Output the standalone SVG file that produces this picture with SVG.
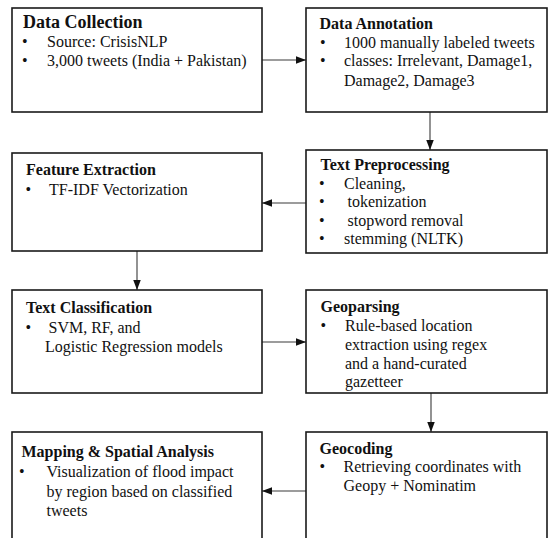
<svg xmlns="http://www.w3.org/2000/svg" width="548" height="538" viewBox="0 0 548 538">
<style>
.box{fill:#fff;stroke:#1a1a1a;stroke-width:1.6}
.t{font-family:"Liberation Serif","Times New Roman",serif;font-size:16px;font-weight:bold;fill:#111}
.b{font-family:"Liberation Serif","Times New Roman",serif;font-size:16px;fill:#111}
.c{stroke:#3a3a3a;stroke-width:1.1;fill:none;marker-end:url(#ah)}
</style>
<defs>
<marker id="ah" markerUnits="userSpaceOnUse" markerWidth="11" markerHeight="8" refX="10" refY="3.75" orient="auto">
<path d="M0,0 L10,3.75 L0,7.5 z" fill="#111"/>
</marker>
</defs>
<rect width="548" height="538" fill="#fff"/>
<g id="connectors">
<line class="c" x1="262" y1="60" x2="306" y2="60"/>
<line class="c" x1="430" y1="112" x2="430" y2="150"/>
<line class="c" x1="306" y1="203" x2="262" y2="203"/>
<line class="c" x1="137" y1="251" x2="137" y2="290"/>
<line class="c" x1="262" y1="342" x2="306" y2="342"/>
<line class="c" x1="431" y1="393" x2="431" y2="432"/>
<line class="c" x1="306" y1="491" x2="262" y2="491"/>
</g>
<g id="data-collection">
<rect class="box" x="12" y="8" width="250" height="104"/>
<text class="t" x="23" y="27.5" style="font-size:18px">Data Collection</text>
<text class="b" x="22" y="46.5">•</text>
<text class="b" x="47" y="46.5">Source: CrisisNLP</text>
<text class="b" x="22" y="65.5">•</text>
<text class="b" x="47" y="65.5">3,000 tweets (India + Pakistan)</text>
</g>
<g id="data-annotation">
<rect class="box" x="306" y="8" width="241" height="104"/>
<text class="t" x="319.5" y="28.5">Data Annotation</text>
<text class="b" x="320" y="47.5">•</text>
<text class="b" x="344" y="47.5">1000 manually labeled tweets</text>
<text class="b" x="320" y="66">•</text>
<text class="b" x="344" y="66">classes: Irrelevant, Damage1,</text>
<text class="b" x="344" y="85.5">Damage2, Damage3</text>
</g>
<g id="text-preprocessing">
<rect class="box" x="306" y="150" width="241" height="103"/>
<text class="t" x="320.5" y="170">Text Preprocessing</text>
<text class="b" x="319" y="188.5">•</text>
<text class="b" x="344" y="188.5">Cleaning,</text>
<text class="b" x="319" y="207">•</text>
<text class="b" x="347.5" y="207">tokenization</text>
<text class="b" x="319" y="225.5">•</text>
<text class="b" x="347.5" y="225.5">stopword removal</text>
<text class="b" x="319" y="244">•</text>
<text class="b" x="344" y="244">stemming (NLTK)</text>
</g>
<g id="feature-extraction">
<rect class="box" x="12" y="153" width="250" height="98"/>
<text class="t" x="26" y="175">Feature Extraction</text>
<text class="b" x="25.5" y="194.5">•</text>
<text class="b" x="49" y="194.5">TF-IDF Vectorization</text>
</g>
<g id="text-classification">
<rect class="box" x="12" y="290" width="250" height="103"/>
<text class="t" x="26" y="313">Text Classification</text>
<text class="b" x="25.5" y="332.5">•</text>
<text class="b" x="48.5" y="332.5">SVM, RF, and</text>
<text class="b" x="45" y="351.5">Logistic Regression models</text>
</g>
<g id="geoparsing">
<rect class="box" x="306" y="290" width="241" height="103"/>
<text class="t" x="320.5" y="312">Geoparsing</text>
<text class="b" x="320.5" y="331">•</text>
<text class="b" x="345" y="331">Rule-based location</text>
<text class="b" x="345" y="350">extraction using regex</text>
<text class="b" x="345" y="368.5">and a hand-curated</text>
<text class="b" x="345" y="387">gazetteer</text>
</g>
<g id="mapping">
<rect class="box" x="12" y="432" width="250" height="120"/>
<text class="t" x="21.5" y="457">Mapping &amp; Spatial Analysis</text>
<text class="b" x="19" y="477">•</text>
<text class="b" x="46.5" y="477">Visualization of flood impact</text>
<text class="b" x="46.5" y="497">by region based on classified</text>
<text class="b" x="46.5" y="516">tweets</text>
</g>
<g id="geocoding">
<rect class="box" x="306" y="432" width="241" height="120"/>
<text class="t" x="319.5" y="453.5">Geocoding</text>
<text class="b" x="319.5" y="472">•</text>
<text class="b" x="343.5" y="472">Retrieving coordinates with</text>
<text class="b" x="343.5" y="490.5">Geopy + Nominatim</text>
</g>
</svg>
